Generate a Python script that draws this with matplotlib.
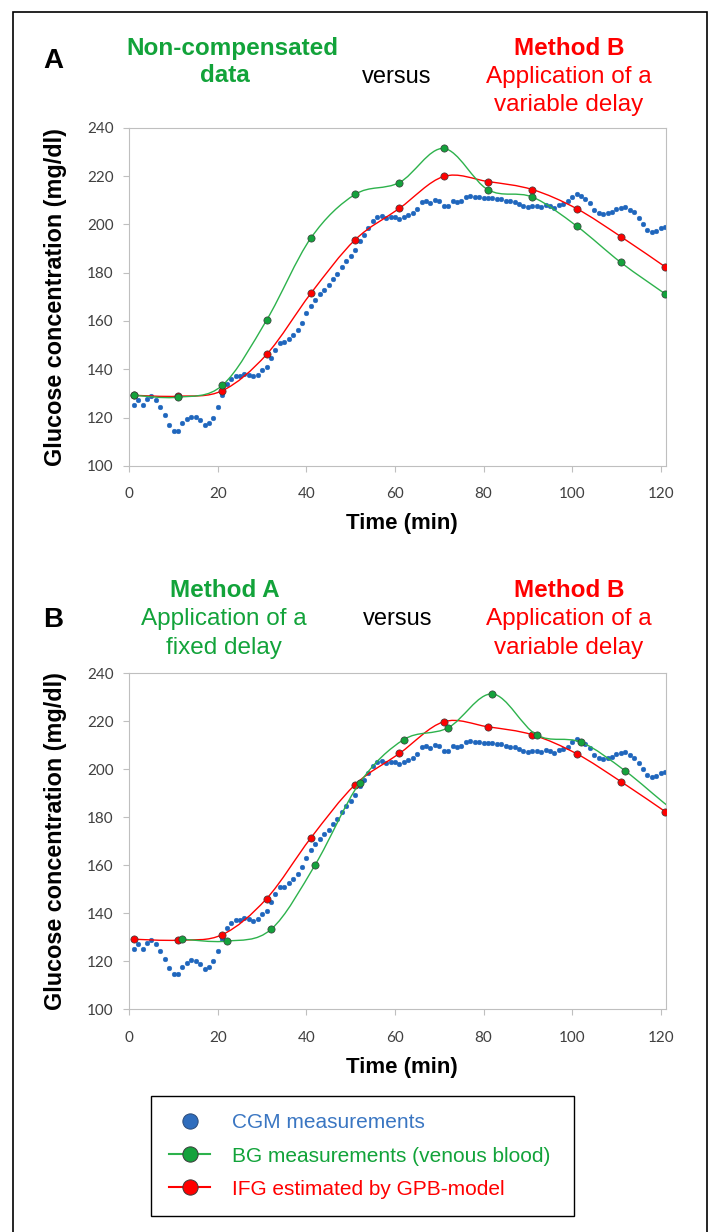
import numpy as np
import matplotlib.pyplot as plt
from matplotlib.path import Path
from matplotlib.patches import PathPatch, Rectangle
from matplotlib.lines import Line2D

plt.rcParams['font.family'] = ['Liberation Sans', 'DejaVu Sans']

# CGM readings, one per minute from t = 1 to 121 (mg/dl)
cgm_t = np.arange(1, 122)
cgm = [
    125.3, 127.3, 125.3, 127.6, 128.7, 127.3, 124.3, 121.1, 117.1, 114.6,
    114.6, 117.7, 119.3, 120.4, 120.2, 119.0, 116.8, 117.7, 120.0, 124.3,
    129.2, 133.7, 135.8, 137.2, 137.2, 138.1, 137.6, 137.0, 137.6, 139.8,
    141.1, 144.6, 148.0, 150.8, 151.1, 152.6, 154.2, 156.3, 159.3, 163.2,
    166.3, 168.8, 171.1, 172.9, 174.7, 177.3, 179.5, 182.3, 184.6, 187.0,
    189.5, 192.9, 195.7, 198.6, 201.2, 202.9, 203.3, 202.6, 203.0, 203.0,
    202.3, 203.0, 204.0, 204.7, 206.3, 209.3, 209.8, 208.8, 210.2, 209.8,
    207.7, 207.7, 209.8, 209.3, 209.8, 211.5, 211.8, 211.5, 211.2, 210.9,
    210.9, 210.9, 210.5, 210.5, 209.8, 209.5, 209.2, 208.5, 207.7, 207.2,
    207.7, 207.5, 207.2, 208.1, 207.7, 206.7, 208.1, 208.5, 209.5, 211.5,
    212.7, 211.8, 210.5, 208.8, 206.0, 204.7, 204.3, 204.7, 205.3, 206.3,
    206.7, 207.1, 206.0, 204.9, 202.6, 200.2, 197.7, 197.0, 197.4, 198.4,
    198.9,
]

# venous blood glucose samples (mg/dl)
bg_t = np.array([1, 11, 21, 31, 41, 51, 61, 71, 81, 91, 101, 111, 121])
bg = [129.2, 128.4, 133.3, 160.3, 194.3, 212.4, 217.3, 231.4, 214.3,
      211.3, 199.3, 184.2, 171.2]
bg_delay = 11  # fixed delay used by method A (min)

# interstitial glucose from the GPB model (mg/dl)
ifg_t = np.array([1, 11, 21, 31, 41, 51, 61, 71, 81, 91, 101, 111, 121])
ifg = [129.2, 128.8, 131.1, 146.1, 171.4, 193.6, 206.6, 219.8, 217.7,
       214.4, 206.5, 194.9, 182.4]

x_ticks = [0, 20, 40, 60, 80, 100, 120]
y_ticks = [100, 120, 140, 160, 180, 200, 220, 240]
legend_labels = ["CGM measurements", "BG measurements (venous blood)",
                 "IFG estimated by GPB-model"]

# colours
blue = "#1f66bd"
green_line = "#2db24c"
green_mk = "#14a23c"
green_txt = "#12a33a"
red = "#ff0000"
edge = "#3a3a3a"
XMAX = 121.2

W, H = 710, 1232
fig = plt.figure(figsize=(W / 100, H / 100), dpi=100)


def fx(px):
    return px / W


def fy(py):
    return 1 - py / H


def smooth_path(t, v):
    # Excel-like smoothed line: Bezier segments through the points
    pts = np.column_stack([t, v]).astype(float)
    n = len(pts)
    verts = [pts[0]]
    codes = [Path.MOVETO]
    for i in range(n - 1):
        p0 = pts[i - 1] if i > 0 else pts[i]
        p1, p2 = pts[i], pts[i + 1]
        p3 = pts[i + 2] if i + 2 < n else pts[i + 1]
        verts += [p1 + (p2 - p0) / 6, p2 - (p3 - p1) / 6, p2]
        codes += [Path.CURVE4] * 3
    return Path(verts, codes)


def draw_series(ax, t, v, line_color, face, z):
    ax.add_patch(PathPatch(smooth_path(t, v), facecolor="none",
                           edgecolor=line_color, lw=1.0, zorder=z))
    t = np.asarray(t)
    v = np.asarray(v)
    keep = t <= XMAX
    ax.plot(t[keep], v[keep], ls="none", marker="o", ms=5.2, mfc=face,
            mec=edge, mew=0.5, zorder=z + 0.5)


def style_axes(ax, xlabel_y):
    ax.set_xlim(0, XMAX)
    ax.set_ylim(100, 240)
    ax.set_xticks(x_ticks)
    ax.set_yticks(y_ticks)
    for sp in ax.spines.values():
        sp.set_color("#bfbfbf")
        sp.set_linewidth(0.8)
    ax.tick_params(direction="out", length=4.3, width=0.8, color="#bfbfbf",
                   labelsize=11, labelcolor="#404040")
    ax.tick_params(axis="x", pad=11)
    ax.tick_params(axis="y", pad=7)
    for lbl in ax.get_xticklabels() + ax.get_yticklabels():
        lbl.set_fontfamily("Lato")
    ax.set_ylabel("Glucose concentration (mg/dl)", fontsize=16.8,
                  fontweight="bold", va="center")
    ax.yaxis.set_label_coords(-0.1384, 0.5)
    ax.set_xlabel("Time (min)", fontsize=16, fontweight="bold", va="baseline")
    ax.xaxis.set_label_coords(0.507, xlabel_y)


ax_a = fig.add_axes([fx(129.3), fy(465.8), fx(666) - fx(129.3),
                     (465.8 - 127.7) / H])
ax_b = fig.add_axes([fx(129.3), fy(1009.3), fx(666) - fx(129.3),
                     (1009.3 - 673.3) / H])

for ax, green_t in ((ax_a, bg_t), (ax_b, bg_t + bg_delay)):
    ax.plot(cgm_t, cgm, ls="none", marker="o", ms=3.4, mfc=blue, mec=blue,
            mew=0.3, zorder=2)
    draw_series(ax, ifg_t, ifg, red, red, 3)
    draw_series(ax, green_t, bg, green_line, green_mk, 5)

style_axes(ax_a, -63.4 / 338.1)
style_axes(ax_b, -63.4 / 336.0)

# header texts
head = dict(ha="center", va="baseline", fontsize=17.5)
fig.text(fx(53), fy(68.3), "A", fontsize=20, fontweight="bold",
         ha="center", va="baseline")
fig.text(fx(232), fy(55), "Non-compensated", color=green_txt,
         fontweight="bold", **head)
fig.text(fx(225), fy(82), "data", color=green_txt, fontweight="bold", **head)
fig.text(fx(397), fy(83), "versus", color="black", ha="center",
         va="baseline", fontsize=17)
fig.text(fx(569), fy(55), "Method B", color=red, fontweight="bold", **head)
fig.text(fx(569), fy(83), "Application of a", color=red, **head)
fig.text(fx(569), fy(111.5), "variable delay", color=red, **head)

fig.text(fx(53), fy(626.7), "B", fontsize=20, fontweight="bold",
         ha="center", va="baseline")
fig.text(fx(224.5), fy(597), "Method A", color=green_txt,
         fontweight="bold", **head)
fig.text(fx(224), fy(625), "Application of a", color=green_txt, **head)
fig.text(fx(224), fy(654), "fixed delay", color=green_txt, **head)
fig.text(fx(397.5), fy(625), "versus", color="black", ha="center",
         va="baseline", fontsize=17)
fig.text(fx(569), fy(597), "Method B", color=red, fontweight="bold", **head)
fig.text(fx(569), fy(625), "Application of a", color=red, **head)
fig.text(fx(569), fy(654), "variable delay", color=red, **head)

# legend
handles = [
    Line2D([], [], ls="none", marker="o", ms=11, mfc="#2f6dbd",
           mec="#2a4a78", mew=0.7),
    Line2D([], [], color=green_line, lw=1.5, marker="o", ms=11,
           mfc=green_mk, mec=edge, mew=0.7),
    Line2D([], [], color=red, lw=1.5, marker="o", ms=11, mfc=red,
           mec=edge, mew=0.7),
]
leg = fig.legend(handles, legend_labels, loc="upper left",
                 bbox_to_anchor=(fx(151), fy(1095.7), fx(574.3) - fx(151), 0),
                 mode="expand", borderaxespad=0, frameon=True, fancybox=False,
                 edgecolor="black", framealpha=1, fontsize=15,
                 handlelength=2.0, handletextpad=1.05, borderpad=0.85,
                 labelspacing=0.68)
leg.get_frame().set_linewidth(1.0)
for txt, c in zip(leg.get_texts(), ["#3a76c2", green_txt, red]):
    txt.set_color(c)

# outer frame (open at the bottom edge of the crop)
fig.add_artist(Rectangle((fx(12.7), fy(1245)), fx(706.7) - fx(12.7),
                         (1245 - 12) / H, transform=fig.transFigure,
                         fill=False, ec="black", lw=1.2, clip_on=False))

fig.savefig("out.png", dpi=100)
plt.close(fig)
